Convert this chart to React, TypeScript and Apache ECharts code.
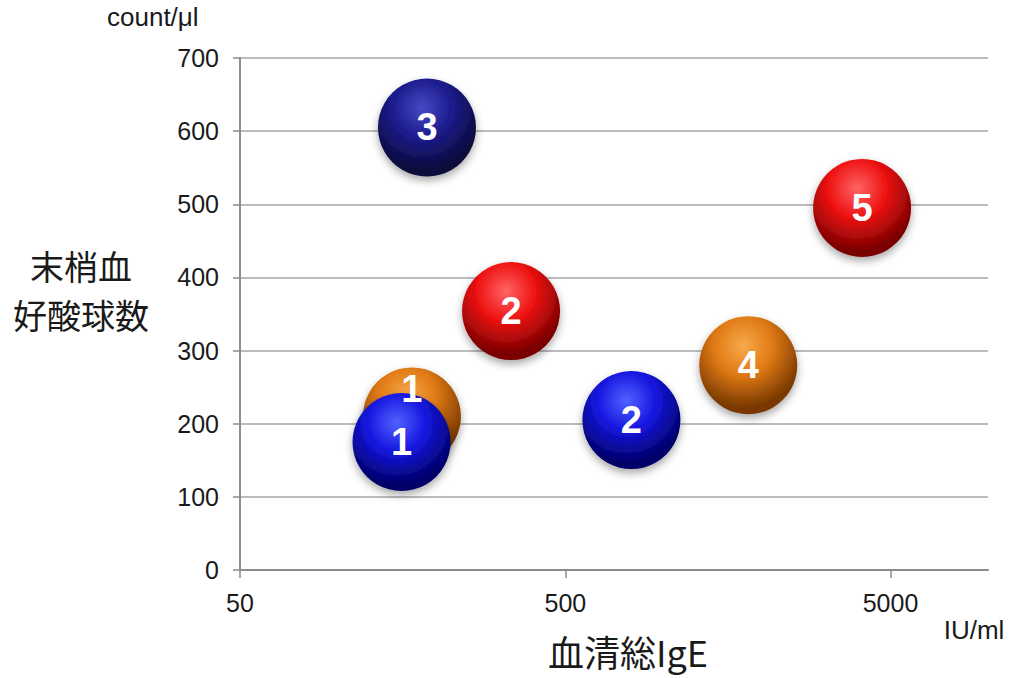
import React, { useEffect, useRef } from "react";
import * as echarts from "echarts";

// [IgE (IU/ml), eosinophil count (/μl), label]
const navyPoints: [number, number, string][] = [[188, 605, "3"]];
const orangePoints: [number, number, string][] = [
  [169, 210, "1"],
  [1830, 280, "4"],
];
const bluePoints: [number, number, string][] = [
  [157, 175, "1"],
  [800, 205, "2"],
];
const redPoints: [number, number, string][] = [
  [341, 354, "2"],
  [4100, 495, "5"],
];

const yTicks = [0, 100, 200, 300, 400, 500, 600, 700];
const xTitle = "血清総IgE";
const yTitleLines = ["末梢血", "好酸球数"];
const xUnit = "IU/ml";
const yUnit = "count/μl";

function sphere(light: string, base: string, dark: string) {
  return {
    type: "radial",
    x: 0.45,
    y: 0.3,
    r: 0.75,
    colorStops: [
      { offset: 0, color: light },
      { offset: 0.4, color: base },
      { offset: 0.85, color: dark },
      { offset: 1, color: dark },
    ],
  };
}

function makeSeries(name: string, pts: [number, number, string][], fill: any, labelOffsets: Record<number, number[]> = {}) {
  return {
    name,
    type: "scatter",
    symbol: "circle",
    symbolSize: 98,
    data: pts.map((p, i) => ({
      value: [p[0], p[1]],
      label: labelOffsets[i] ? { offset: labelOffsets[i] } : undefined,
      name: p[2],
    })),
    itemStyle: {
      color: fill,
      opacity: 1,
      shadowBlur: 8,
      shadowColor: "rgba(0,0,0,0.35)",
      shadowOffsetY: 4,
    },
    label: {
      show: true,
      position: "inside",
      formatter: (p: any) => p.name,
      color: "#ffffff",
      fontFamily: "Liberation Sans, Arial, sans-serif",
      fontWeight: "bold",
      fontSize: 38,
    },
    emphasis: { disabled: true },
  };
}

export default function App() {
  const ref = useRef<HTMLDivElement>(null);
  useEffect(() => {
    if (!ref.current) return;
    const chart = echarts.init(ref.current, undefined, { renderer: "svg" });
    const font = "Liberation Sans, Arial, sans-serif";
    const cjk = `"Noto Sans CJK JP", sans-serif`;
    chart.setOption({
      animation: false,
      backgroundColor: "#ffffff",
      grid: { left: 240, right: 23, top: 58, bottom: 108 },
      xAxis: {
        type: "log",
        logBase: 10,
        min: 50,
        max: 10000,
        interval: 1,
        axisLine: { show: true, lineStyle: { color: "#8c8c8c", width: 2 } },
        axisTick: { show: true, length: 8, lineStyle: { color: "#8c8c8c", width: 1.5 } },
        splitLine: { show: false },
        minorTick: { show: false },
        axisLabel: {
          color: "#1a1a1a",
          fontFamily: font,
          fontSize: 25,
          margin: 20,
          showMaxLabel: false,
          formatter: (v: number) => String(Number(v.toPrecision(1))),
        },
      },
      yAxis: {
        type: "value",
        min: yTicks[0],
        max: yTicks[yTicks.length - 1],
        interval: 100,
        axisLine: { show: true, lineStyle: { color: "#8c8c8c", width: 2 } },
        axisTick: { show: true, length: 7, lineStyle: { color: "#8c8c8c", width: 1.5 } },
        splitLine: { show: true, lineStyle: { color: "#a6a6a6", width: 1.5 } },
        axisLabel: {
          color: "#1a1a1a",
          fontFamily: font,
          fontSize: 25,
          margin: 21,
        },
      },
      series: [
        makeSeries("navy", navyPoints, sphere("#4848c4", "#1c1c8e", "#0a0a3a")),
        makeSeries("orange", orangePoints, sphere("#f8aa4c", "#e07a14", "#783800"), { 0: [0, -27] }),
        makeSeries("blue", bluePoints, sphere("#5262ff", "#1616e0", "#000068")),
        makeSeries("red", redPoints, sphere("#ff6464", "#ee1212", "#7a0000")),
      ],
      graphic: [
        {
          type: "text",
          left: 107,
          top: 4,
          style: { text: yUnit, fill: "#1a1a1a", font: `26px ${font}` },
        },
        {
          type: "text",
          x: 81,
          y: 265,
          style: {
            text: yTitleLines[0],
            fill: "#1a1a1a",
            font: `34px ${cjk}`,
            align: "center",
            verticalAlign: "middle",
          },
        },
        {
          type: "text",
          x: 81,
          y: 314,
          style: {
            text: yTitleLines[1],
            fill: "#1a1a1a",
            font: `34px ${cjk}`,
            align: "center",
            verticalAlign: "middle",
          },
        },
        {
          type: "text",
          x: 628,
          y: 651,
          style: {
            text: xTitle,
            fill: "#1a1a1a",
            font: `36px ${cjk}`,
            align: "center",
            verticalAlign: "middle",
          },
        },
        {
          type: "text",
          x: 974,
          y: 630,
          style: {
            text: xUnit,
            fill: "#1a1a1a",
            font: `26px ${font}`,
            align: "center",
            verticalAlign: "middle",
          },
        },
      ],
    });
    return () => chart.dispose();
  }, []);
  return (
    <div
      ref={ref}
      style={{ position: "absolute", left: 0, top: 0, width: 1011, height: 678 }}
    />
  );
}
